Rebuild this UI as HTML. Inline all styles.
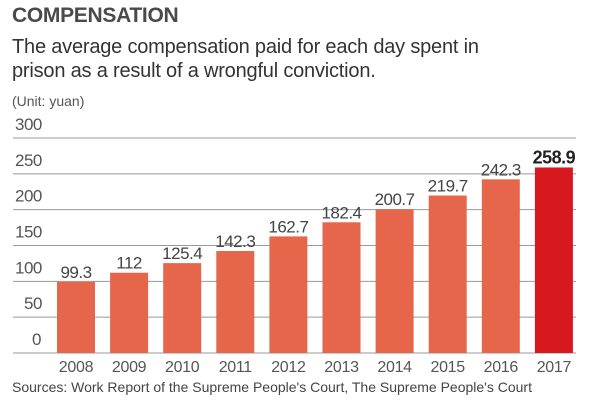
<!DOCTYPE html>
<html><head><meta charset="utf-8"><style>
body{margin:0;background:#fff;font-family:"Liberation Sans",sans-serif}
#wrap{position:relative;width:600px;height:400px;overflow:hidden}
.t{position:absolute;white-space:nowrap}
</style></head><body>
<div id="wrap">
<div class="t" style="left:12px;top:4px;font-size:21px;font-weight:bold;color:#4a4a4a;letter-spacing:-0.3px">COMPENSATION</div>
<div class="t" style="left:12px;top:35px;font-size:20px;color:#333;line-height:24px;letter-spacing:-0.2px">The average compensation paid for each day spent in<br>prison as a result of a wrongful conviction.</div>
<div class="t" style="left:12px;top:93px;font-size:14px;color:#555">(Unit: yuan)</div>
<svg id="svg" width="600" height="400" style="position:absolute;left:0;top:0"></svg>
<div class="t" style="left:12px;top:379px;font-size:14px;color:#444">Sources: Work Report of the Supreme People's Court, The Supreme People's Court</div>
</div>
<script>
const categories=['2008','2009','2010','2011','2012','2013','2014','2015','2016','2017'];
const values=[99.3,112,125.4,142.3,162.7,182.4,200.7,219.7,242.3,258.9];
const valueLabels=['99.3','112','125.4','142.3','162.7','182.4','200.7','219.7','242.3','258.9'];
const yTicks=[0,50,100,150,200,250,300];
const ns='http://www.w3.org/2000/svg';
const svg=document.getElementById('svg');
const y=v=>353-v*(215/300);
const x=i=>57+i*53.1;
function mk(t,a){const e=document.createElementNS(ns,t);for(const k in a)e.setAttribute(k,a[k]);svg.appendChild(e);return e;}
yTicks.forEach(v=>{
 const l=mk('line',{x1:13,x2:576,y1:y(v),y2:y(v),stroke:'#999','stroke-width':1});
 
 
 const t=mk('text',{x:13+(v<100?(v==0?17:9):0)+2,y:y(v)-8,'font-size':17,fill:'#555','font-family':'Liberation Sans','letter-spacing':'-0.5'});
 t.textContent=v;
 
 
});
categories.forEach((c,i)=>{
 const last=i===categories.length-1;
 const r=mk('rect',{x:x(i),y:y(values[i]),width:38,height:y(0)-y(values[i]),fill:last?'#d7181f':'#e5664a'});
 
 
 const t=mk('text',{x:x(i)+19,y:y(values[i])-4,'text-anchor':'middle','font-size':last?18:17,'font-weight':last?'bold':'normal',fill:last?'#222':'#444','font-family':'Liberation Sans','letter-spacing':'-0.5'});
 t.textContent=valueLabels[i];
 
 
 const xl=mk('text',{x:x(i)+19,y:372,'text-anchor':'middle','font-size':16,fill:'#555','font-family':'Liberation Sans','letter-spacing':'-0.3'});
 xl.textContent=c;
 
 
});
</script>
</body></html>
